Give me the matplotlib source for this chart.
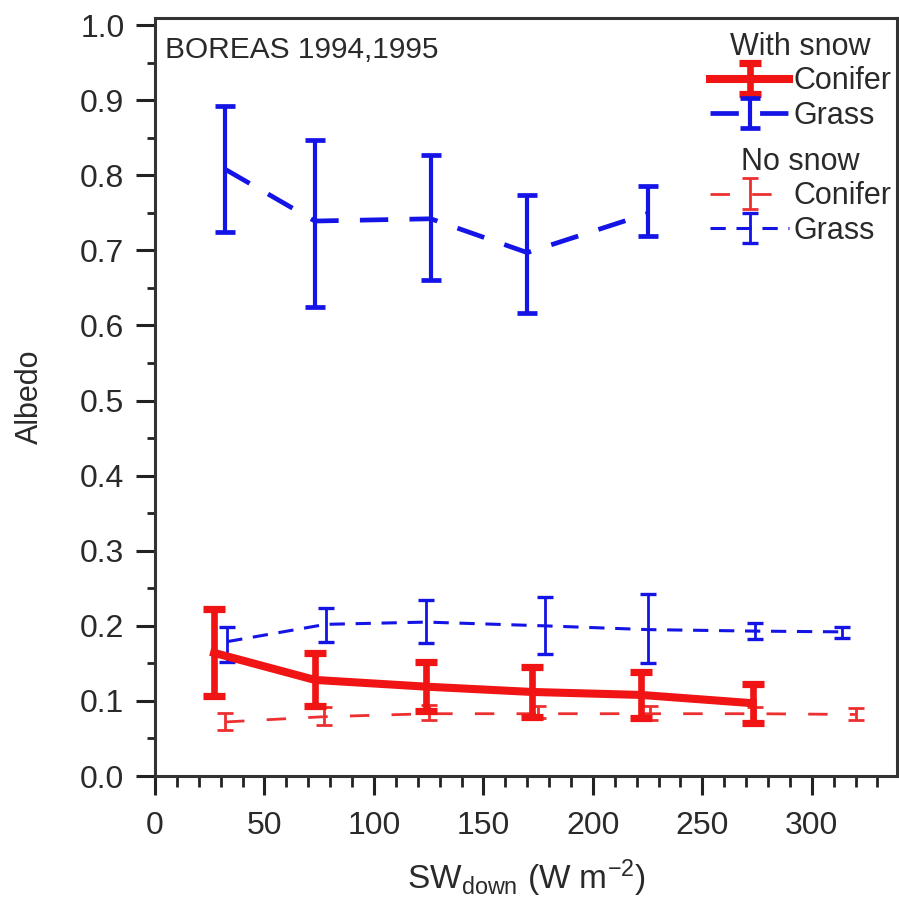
import matplotlib
matplotlib.use("Agg")
import matplotlib.pyplot as plt
from matplotlib.ticker import MultipleLocator
import numpy as np

plt.rcParams['font.family'] = ['Liberation Sans', 'DejaVu Sans']
plt.rcParams['mathtext.default'] = 'regular'

# With snow - Conifer
snow_con_x = [27, 73, 124, 172, 222, 273]
snow_con_y = [0.164, 0.128, 0.119, 0.112, 0.108, 0.097]
snow_con_lo = [0.107, 0.093, 0.086, 0.079, 0.077, 0.070]
snow_con_hi = [0.222, 0.164, 0.152, 0.145, 0.139, 0.122]

# With snow - Grass
snow_grs_x = [32, 73, 126, 170, 225]
snow_grs_y = [0.808, 0.739, 0.742, 0.697, 0.749]
snow_grs_lo = [0.725, 0.624, 0.660, 0.617, 0.719]
snow_grs_hi = [0.892, 0.847, 0.827, 0.774, 0.785]

# No snow - Conifer
ns_con_x = [32, 77, 125, 175, 226, 274, 320]
ns_con_y = [0.072, 0.079, 0.083, 0.083, 0.083, 0.083, 0.082]
ns_con_lo = [0.061, 0.068, 0.074, 0.077, 0.075, 0.072, 0.074]
ns_con_hi = [0.084, 0.092, 0.094, 0.093, 0.093, 0.092, 0.090]

# No snow - Grass
ns_grs_x = [33, 78, 124, 178, 225, 274, 314]
ns_grs_y = [0.179, 0.202, 0.205, 0.200, 0.195, 0.193, 0.192]
ns_grs_lo = [0.152, 0.179, 0.177, 0.162, 0.150, 0.182, 0.184]
ns_grs_hi = [0.199, 0.224, 0.235, 0.238, 0.242, 0.204, 0.199]

y_ticks = [0.0, 0.1, 0.2, 0.3, 0.4, 0.5, 0.6, 0.7, 0.8, 0.9, 1.0]
y_ticklabels = ['0.0', '0.1', '0.2', '0.3', '0.4', '0.5', '0.6', '0.7', '0.8', '0.9', '1.0']

RED = '#f01414'
RED2 = '#ec3030'
BLUE = '#1414e6'
TXT = '#2a2a2a'

fig = plt.figure(figsize=(8.99, 9.13), dpi=100)
ax = fig.add_axes([0.1724, 0.150, 0.8256, 0.830])

def yerr(y, lo, hi):
    y = np.array(y)
    return [y - np.array(lo), np.array(hi) - y]

e1 = ax.errorbar(ns_con_x, ns_con_y, yerr=yerr(ns_con_y, ns_con_lo, ns_con_hi),
                 color=RED2, lw=2.0, ls=(0, (7, 8)), elinewidth=2.0, capsize=6, capthick=2.0, zorder=2)
e2 = ax.errorbar(ns_grs_x, ns_grs_y, yerr=yerr(ns_grs_y, ns_grs_lo, ns_grs_hi),
                 color=BLUE, lw=2.2, ls=(0, (5, 3.5)), elinewidth=2.0, capsize=6, capthick=2.4, zorder=2)
e3 = ax.errorbar(snow_grs_x, snow_grs_y, yerr=yerr(snow_grs_y, snow_grs_lo, snow_grs_hi),
                 color=BLUE, lw=3.4, ls=(0, (6, 4.5)), elinewidth=3.0, capsize=7, capthick=3.4, zorder=3)
e4 = ax.errorbar(snow_con_x, snow_con_y, yerr=yerr(snow_con_y, snow_con_lo, snow_con_hi),
                 color=RED, lw=5.8, ls='-', elinewidth=4.8, capsize=8, capthick=5.2, zorder=4)

ax.set_xlim(0, 339)
ax.set_ylim(0, 1.009)
ax.xaxis.set_major_locator(MultipleLocator(50))
ax.xaxis.set_minor_locator(MultipleLocator(10))
ax.set_yticks(y_ticks)
ax.set_yticklabels(y_ticklabels)
ax.yaxis.set_minor_locator(MultipleLocator(0.05))
ax.tick_params(axis='both', which='major', length=14, width=2.2, labelsize=23,
               direction='out', color='#222222', labelcolor=TXT, pad=8)
ax.tick_params(axis='x', which='major', pad=11)
ax.tick_params(axis='x', which='minor', length=8, width=2.0, direction='out', color='#222222')
ax.tick_params(axis='y', which='minor', length=6, width=2.0, direction='out', color='#222222')
for s in ax.spines.values():
    s.set_linewidth(2.2)
    s.set_color('#333333')

ax.set_ylabel('Albedo', fontsize=22, labelpad=25, color=TXT)
ax.set_xlabel(r'SW$_{down}$ (W m$^{-2}$)', fontsize=24, labelpad=12, color=TXT)

ax.text(0.014, 0.958, 'BOREAS 1994,1995', transform=ax.transAxes, fontsize=21.5,
        ha='left', va='center', color=TXT)

common = dict(loc='upper right', frameon=False, fontsize=22, title_fontsize=22,
              handlelength=2.6, handletextpad=0.12, labelspacing=0.14, borderpad=0.1,
              borderaxespad=0.1)
leg1 = ax.legend([e4, e3], ['Conifer', 'Grass'], title='With snow',
                 bbox_to_anchor=(1.0, 0.990), **common)
for t in leg1.get_texts():
    t.set_color(TXT)
leg1.get_title().set_color(TXT)
ax.add_artist(leg1)
leg2 = ax.legend([e1, e2], ['Conifer', 'Grass'], title='No snow',
                 bbox_to_anchor=(1.0, 0.838), **common)
for t in leg2.get_texts():
    t.set_color(TXT)
leg2.get_title().set_color(TXT)

fig.savefig('out.png', dpi=100)
